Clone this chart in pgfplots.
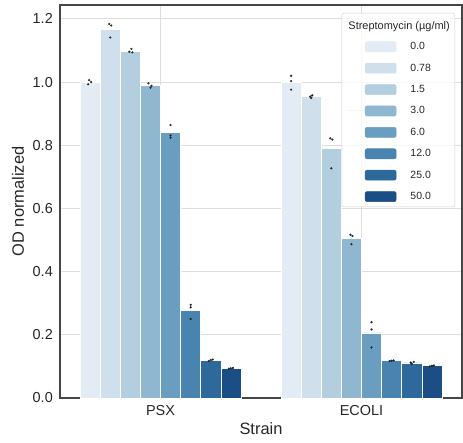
\documentclass[border=0pt]{standalone}
\usepackage{pgfplots}
\pgfplotsset{compat=1.18}
\usepackage{fontspec}
\setmainfont{Liberation Sans}
\definecolor{c1}{RGB}{227,236,245}
\definecolor{c2}{RGB}{208,223,236}
\definecolor{c3}{RGB}{178,206,223}
\definecolor{c4}{RGB}{143,183,208}
\definecolor{c5}{RGB}{105,158,192}
\definecolor{c6}{RGB}{72,132,175}
\definecolor{c7}{RGB}{46,105,156}
\definecolor{c8}{RGB}{26,78,133}
\definecolor{txt}{RGB}{38,38,38}
\definecolor{spine}{RGB}{70,70,70}
\definecolor{gridc}{RGB}{221,221,221}
\pgfplotsset{
  legimg/.style={legend image code/.code={\path (0bp,0bp) -- (49bp,0bp); \fill[#1, fill opacity=1] (18bp,-5bp) rectangle (49bp,5bp);}},
  mybar/.style={ybar, bar width=0.1, fill=#1, draw=white, line width=0.6bp, legimg=#1},
}
\begin{document}
\begin{tikzpicture}
\begin{axis}[
  scale only axis, width=402bp, height=393bp,
  xmin=-0.5, xmax=1.5, ymin=0, ymax=1.244,
  xtick={0,1}, xticklabels={PSX,ECOLI},
  ytick={0,0.2,0.4,0.6,0.8,1.0,1.2},
  yticklabel style={/pgf/number format/fixed, /pgf/number format/fixed zerofill, /pgf/number format/precision=1},
  /pgf/number format/assume math mode=true,
  tick label style={font=\fontsize{14.5}{16}\selectfont, text=txt},
  xticklabel style={inner sep=0pt, yshift=-7bp},
  yticklabel style={inner sep=0pt, xshift=-7bp},
  major tick length=0pt,
  grid=major, major grid style={gridc, line width=1bp},
  axis line style={spine, line width=1.25bp},
  xlabel={Strain}, ylabel={OD normalized},
  every axis x label/.style={at={(axis description cs:0.5,0)}, anchor=north, yshift=-24bp, inner sep=0pt, font=\fontsize{16.5}{18}\selectfont, text=txt},
  every axis y label/.style={at={(axis description cs:0,0.5)}, rotate=90, anchor=center, yshift=42bp, font=\fontsize{16.5}{18}\selectfont, text=txt},
  legend cell align=left,
  legend style={at={(axis description cs:1,1)}, anchor=north east, xshift=-7bp, yshift=-8bp,
    draw=gridc!85!gray, rounded corners=2bp, fill=white, fill opacity=0.8, text opacity=1,
    inner sep=5bp, row sep=10.8bp, column sep=14bp, nodes={inner sep=0pt},
    font=\fontsize{10.5}{12}\selectfont, text=txt},
]
\addlegendimage{empty legend}
\addlegendentry{\hspace*{-62bp}\fontsize{11}{12}\selectfont\rule{0pt}{11bp}Streptomycin (µg/ml)}
\addplot[mybar=c1, bar shift=-0.35] coordinates {(0,1.000) (1,1.000)};
\addlegendentry{0.0}
\addplot[mybar=c2, bar shift=-0.25] coordinates {(0,1.168) (1,0.954)};
\addlegendentry{0.78}
\addplot[mybar=c3, bar shift=-0.15] coordinates {(0,1.098) (1,0.789)};
\addlegendentry{1.5}
\addplot[mybar=c4, bar shift=-0.05] coordinates {(0,0.989) (1,0.506)};
\addlegendentry{3.0}
\addplot[mybar=c5, bar shift=0.05] coordinates {(0,0.840) (1,0.206)};
\addlegendentry{6.0}
\addplot[mybar=c6, bar shift=0.15] coordinates {(0,0.277) (1,0.118)};
\addlegendentry{12.0}
\addplot[mybar=c7, bar shift=0.25] coordinates {(0,0.120) (1,0.111)};
\addlegendentry{25.0}
\addplot[mybar=c8, bar shift=0.35] coordinates {(0,0.094) (1,0.102)};
\addlegendentry{50.0}
\addplot[only marks, mark=*, mark size=0.9bp, color=txt, forget plot] coordinates {
  (-0.355,1.006) (-0.36,0.993) (-0.345,1.000)
  (-0.255,1.184) (-0.245,1.179) (-0.25,1.141)
  (-0.145,1.105) (-0.155,1.096) (-0.14,1.094)
  (-0.06,0.996) (-0.045,0.988) (-0.05,0.982)
  (0.05,0.864) (0.05,0.831) (0.05,0.824)
  (0.15,0.295) (0.15,0.287) (0.15,0.250)
  (0.26,0.122) (0.25,0.120) (0.24,0.117)
  (0.36,0.095) (0.35,0.094) (0.34,0.093)
  (0.65,1.020) (0.65,1.003) (0.65,0.976)
  (0.755,0.958) (0.745,0.954) (0.75,0.950)
  (0.845,0.822) (0.855,0.818) (0.85,0.727)
  (0.945,0.517) (0.955,0.513) (0.95,0.487)
  (1.05,0.240) (1.05,0.217) (1.05,0.160)
  (1.16,0.119) (1.15,0.118) (1.14,0.117)
  (1.26,0.114) (1.245,0.112) (1.25,0.108)
  (1.36,0.103) (1.35,0.102) (1.34,0.100)
};
\end{axis}
\pgfresetboundingbox
\path[use as bounding box] (-60bp,-45bp) rectangle (403bp,398bp);
\end{tikzpicture}
\end{document}
